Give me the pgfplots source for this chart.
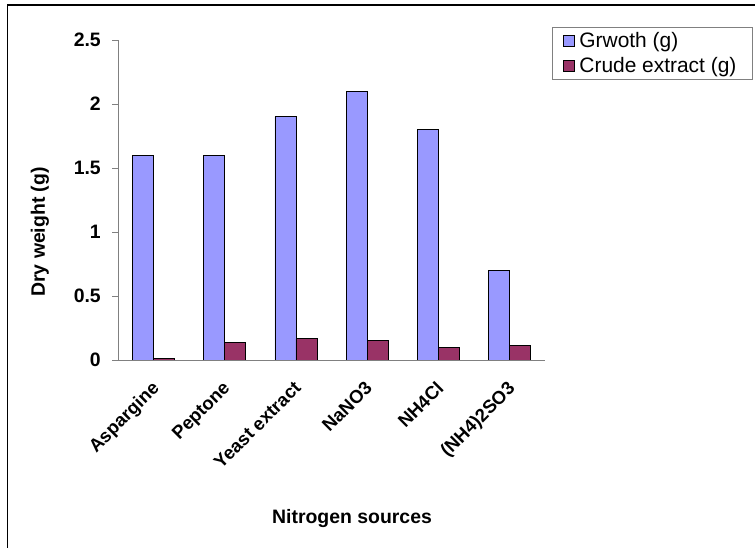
\documentclass[border=0pt]{standalone}
\usepackage{fontspec}
\setmainfont{Liberation Sans}
\usepackage{pgfplots}
\pgfplotsset{compat=1.18}
\definecolor{growth}{HTML}{9999FF}
\definecolor{crude}{HTML}{993366}
\begin{document}
\begin{tikzpicture}[x=1bp,y=1bp]
\useasboundingbox (0,0) rectangle (755,548);
\draw[line width=1.6bp] (7.5,0) -- (7.5,543) -- (755,543);
\begin{axis}[
  at={(118bp,188bp)}, anchor=south west,
  scale only axis, width=427bp, height=320bp,
  ybar=0pt, bar width=21bp,
  xmin=-0.5, xmax=5.5, ymin=0, ymax=2.5,
  axis lines=left,
  axis line style={-, draw=gray, line width=0.8bp},
  tick style={draw=gray, line width=0.8bp},
  tick align=outside, major tick length=6bp,
  ytick={0,0.5,...,2.5},
  xtick={0,...,5},
  xticklabels={Aspargine,Peptone,Yeast extract,NaNO3,NH4Cl,(NH4)2SO3},
  x tick style={draw=none},
  extra x ticks={-0.5,0.5,1.5,2.5,3.5,4.5,5.5},
  extra x tick labels={},
  extra x tick style={tick style={draw=gray, line width=0.8bp}},
  /pgf/number format/assume math mode=true,
  yticklabel style={font=\fontsize{19.5}{22}\selectfont\bfseries, xshift=-8bp, inner sep=3bp},
  xticklabel style={font=\fontsize{18.5}{21}\selectfont\bfseries,
    xshift=-3bp, yshift=-14bp, rotate=45, anchor=north east, inner sep=0pt},
  ylabel={Dry weight (g)},
  xlabel={Nitrogen sources},
  label style={font=\fontsize{19.5}{23}\selectfont\bfseries},
  ylabel style={at={(axis description cs:-0.183,0.40)}, anchor=center, rotate=0},
  xlabel style={at={(axis description cs:0.548,-0.494)}, anchor=center},
  legend style={at={(axis description cs:1.485,1.0406)}, anchor=north east,
    draw=gray, font=\fontsize{21}{24}\selectfont, row sep=5bp,
    inner xsep=11bp, inner ysep=3bp,
    nodes={inner xsep=4.5bp}},
  legend cell align=left,
  legend image code/.code={\draw[#1, draw=black] (0bp,-5.5bp) rectangle (11bp,5.5bp);},
]
\addplot[fill=growth, draw=black, line width=0.8bp] coordinates {(0,1.6) (1,1.6) (2,1.9) (3,2.1) (4,1.8) (5,0.7)};
\addplot[fill=crude, draw=black, line width=0.8bp] coordinates {(0,0.01) (1,0.14) (2,0.165) (3,0.15) (4,0.1) (5,0.115)};
\legend{Grwoth (g), Crude extract (g)}
\end{axis}
\end{tikzpicture}
\end{document}
